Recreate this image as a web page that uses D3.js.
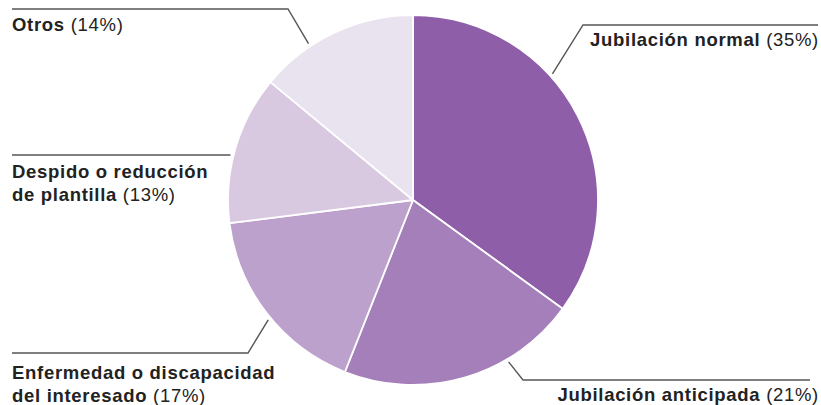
<!DOCTYPE html>
<html>
<head>
<meta charset="utf-8">
<script src="https://cdn.jsdelivr.net/npm/d3@7/dist/d3.min.js"></script>
<style>
  html, body { margin: 0; padding: 0; background: #fff; }
  svg { display: block; }
  text { font-family: "Liberation Sans", Arial, sans-serif; fill: #222; }
</style>
</head>
<body>
<svg id="chart" width="821" height="405"></svg>
<script>
// Motivos de salida (porcentaje)
const categories = [
  "Jubilación normal",
  "Jubilación anticipada",
  "Enfermedad o discapacidad del interesado",
  "Despido o reducción de plantilla",
  "Otros"
];
const values = [35, 21, 17, 13, 14];
const colors = ["#8f5ea8", "#a57fba", "#bda1cd", "#d8c9e1", "#e9e3f0"];

// Label text split into lines; the last line carries the percentage.
const labelLines = [
  ["Jubilación normal"],
  ["Jubilación anticipada"],
  ["Enfermedad o discapacidad", "del interesado"],
  ["Despido o reducción", "de plantilla"],
  ["Otros"]
];

// Leader-line layout: where along the slice the line touches the rim (0..1),
// the elbow of the line, where the horizontal rule ends, and the text anchor.
const labelLayout = [
  { frac: 0.38, elbow: [583, 25],  ruleEnd: 818, tx: 819, ty: 46,  anchor: "end" },
  { frac: 0.31, elbow: [523, 380], ruleEnd: 810, tx: 819, ty: 401, anchor: "end" },
  { frac: 0.47, elbow: [248, 353], ruleEnd: 12,  tx: 12,  ty: 379, anchor: "start" },
  { frac: 0.45, elbow: null,       ruleEnd: 12,  tx: 12,  ty: 178, anchor: "start" },
  { frac: 0.33, elbow: [288, 9],   ruleEnd: 12,  tx: 12,  ty: 31,  anchor: "start" }
];

const cx = 413, cy = 200, radius = 185;
const svg = d3.select("#chart");

const pie = d3.pie().sort(null).value(d => d.value);
const arcs = pie(values.map((v, i) => ({ value: v, name: categories[i], i })));
const arc = d3.arc().innerRadius(0).outerRadius(radius);

const g = svg.append("g").attr("transform", `translate(${cx},${cy})`);
g.selectAll("path.slice")
  .data(arcs)
  .join("path")
  .attr("class", "slice")
  .attr("d", arc)
  .attr("fill", d => colors[d.data.i])
  .attr("stroke", "#fff")
  .attr("stroke-width", 1.8)
  .attr("stroke-linejoin", "round");

// Leader lines
const leaders = svg.append("g")
  .attr("fill", "none")
  .attr("stroke", "#555")
  .attr("stroke-width", 1.4);

arcs.forEach(a => {
  const L = labelLayout[a.data.i];
  const ang = a.startAngle + (a.endAngle - a.startAngle) * L.frac;
  const r = radius + 3;
  const px = cx + r * Math.sin(ang);
  const py = cy - r * Math.cos(ang);
  const elbow = L.elbow || [px, py];
  leaders.append("path")
    .attr("d", d3.line()([[px, py], elbow, [L.ruleEnd, elbow[1]]]));
});

// Labels
const lineHeight = 23;
arcs.forEach(a => {
  const i = a.data.i;
  const L = labelLayout[i];
  const lines = labelLines[i];
  lines.forEach((ln, k) => {
    const t = svg.append("text")
      .attr("x", L.tx)
      .attr("y", L.ty + k * lineHeight)
      .attr("text-anchor", L.anchor)
      .style("font-size", "18.5px")
      .style("letter-spacing", "0.7px");
    t.append("tspan").attr("font-weight", "bold").text(ln);
    if (k === lines.length - 1) {
      t.append("tspan").attr("font-weight", "normal").text(` (${values[i]}%)`);
    }
  });
});
</script>
</body>
</html>
